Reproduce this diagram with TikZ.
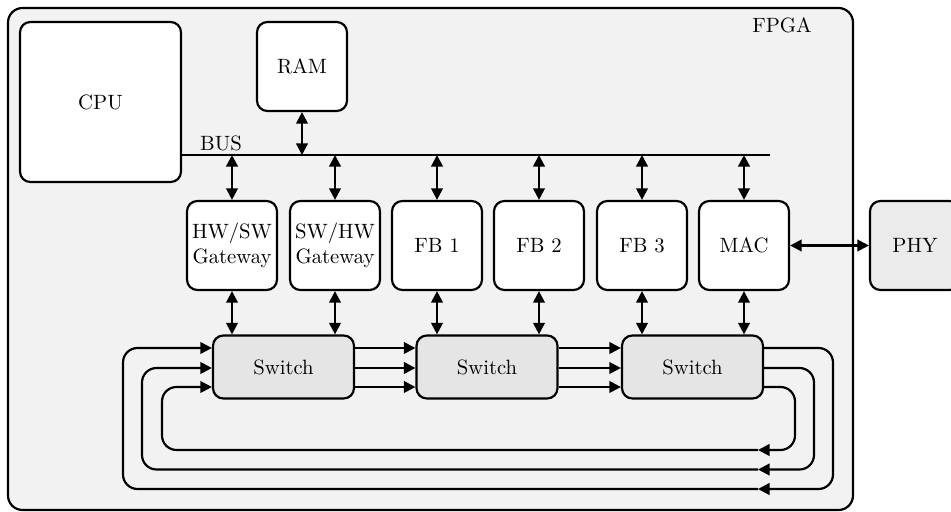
\documentclass[tikz,border=0pt]{standalone}
\usetikzlibrary{arrows.meta}
\newdimen\pxu
\pxu=0.483pt
\tikzset{
  wire/.style={line width=1.05pt},
  tip/.style={-{Triangle[length=5.6pt,width=5.6pt]}},
  biarrow/.style={wire,{Triangle[length=5.6pt,width=5.6pt]}-{Triangle[length=5.6pt,width=5.6pt]}},
  block/.style={draw,line width=1.05pt,rounded corners=5pt,fill=white,align=center,
    inner sep=0pt,minimum width=90*\pxu,minimum height=89*\pxu},
  switchbox/.style={block,fill=gray!20,minimum width=141*\pxu,minimum height=63*\pxu},
  loop/.style={wire,rounded corners=7pt},
}
\begin{document}
\begin{tikzpicture}[x=\pxu,y=-\pxu]
\useasboundingbox (0,0) rectangle (951,512);
\clip (0,0) rectangle (951,512);

% FPGA fabric
\node[draw,line width=1.05pt,rounded corners=7pt,fill=gray!10,inner sep=0pt,
  minimum width=845*\pxu,minimum height=502*\pxu] (fpga) at (430.5,259) {};
\node (fpgalbl) at (782,25) {FPGA};

% processor, memory and bus
\node[block,minimum width=161*\pxu,minimum height=160*\pxu] (cpu) at (100.5,102) {CPU};
\node[block] (ram) at (302,66.5) {RAM};
\coordinate (busend) at (770,155);
\draw[wire] (cpu.east |- busend) -- (busend);
\node (buslbl) at (221,143) {BUS};
\coordinate (busram) at (ram.south |- busend);
\draw[biarrow] (ram.south) -- (busram);

% bus peripherals
\node[block] (gw1) at (232,245.5) {HW/SW\\Gateway};
\node[block] (gw2) at (335,245.5) {SW/HW\\Gateway};
\node[block] (fb1) at (437,245.5) {FB 1};
\node[block] (fb2) at (539,245.5) {FB 2};
\node[block] (fb3) at (642,245.5) {FB 3};
\node[block] (mac) at (744,245.5) {MAC};
\node[block,fill=gray!16] (phy) at (915,245.5) {PHY};

\foreach \n in {gw1,gw2,fb1,fb2,fb3,mac}{
  \coordinate (bus-\n) at (\n.north |- busend);
  \draw[biarrow] (bus-\n) -- (\n.north);
}
\draw[biarrow] (mac.east) -- (phy.west);

% switches
\node[switchbox] (sw1) at (283.5,367) {Switch};
\node[switchbox] (sw2) at (487,367) {Switch};
\node[switchbox] (sw3) at (692.5,367) {Switch};

\draw[biarrow] (gw1.south) -- (gw1.south |- sw1.north);
\draw[biarrow] (gw2.south) -- (gw2.south |- sw1.north);
\draw[biarrow] (fb1.south) -- (fb1.south |- sw2.north);
\draw[biarrow] (fb2.south) -- (fb2.south |- sw2.north);
\draw[biarrow] (fb3.south) -- (fb3.south |- sw3.north);
\draw[biarrow] (mac.south) -- (mac.south |- sw3.north);

% forward links between neighbouring switches
\foreach \yy in {348,368,387}{
  \draw[wire,tip] (sw1.east |- 0,\yy) -- (sw2.west |- 0,\yy);
  \draw[wire,tip] (sw2.east |- 0,\yy) -- (sw3.west |- 0,\yy);
}

% return rings from the last switch back to the first
\coordinate (ra) at (758,489);
\coordinate (rb) at (758,469.5);
\coordinate (rc) at (758,450);
\draw[loop,tip] (sw3.east |- 0,348) -- (833,348) -- (833,489) -- (ra);
\draw[loop,tip] (sw3.east |- 0,368) -- (814,368) -- (814,469.5) -- (rb);
\draw[loop,tip] (sw3.east |- 0,387) -- (795,387) -- (795,450) -- (rc);
\draw[loop,tip] (ra) -- (123,489) -- (123,348) -- (sw1.west |- 0,348);
\draw[loop,tip] (rb) -- (142,469.5) -- (142,368) -- (sw1.west |- 0,368);
\draw[loop,tip] (rc) -- (162,450) -- (162,387) -- (sw1.west |- 0,387);
\end{tikzpicture}
\end{document}
